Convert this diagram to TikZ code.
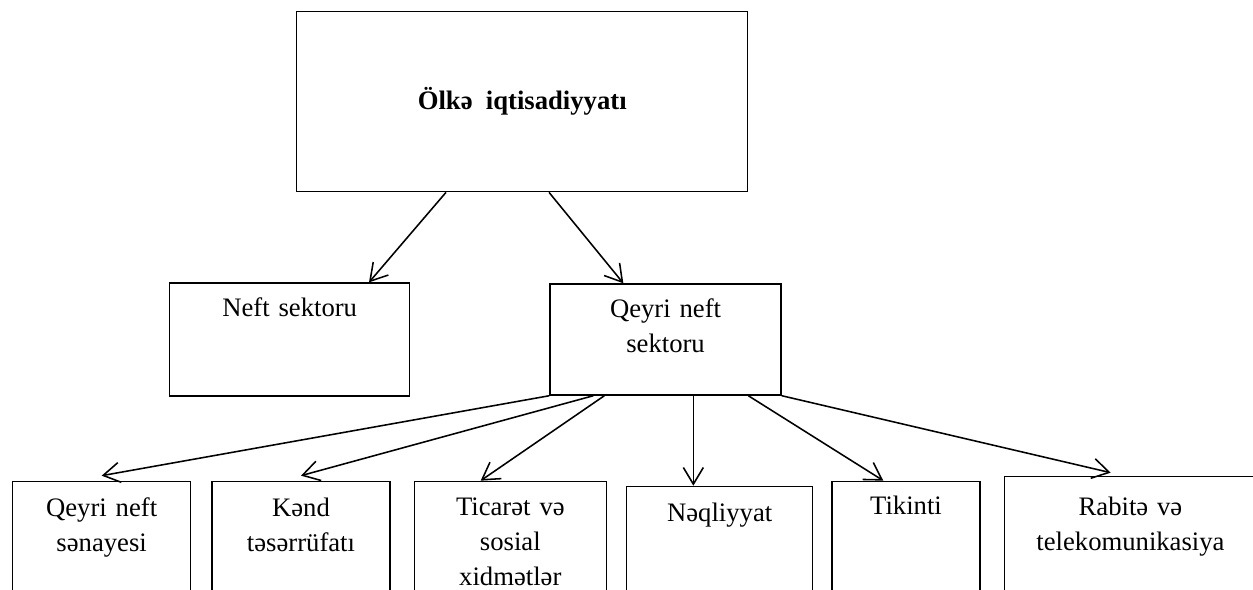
\documentclass[tikz,border=0pt]{standalone}
\usepackage{fontspec}
\setmainfont{Liberation Serif}
\usetikzlibrary{positioning,calc,arrows.meta}

\begin{document}
\begin{tikzpicture}[
    box/.style={rectangle, draw=black, line width=0.6pt, inner sep=0pt,
                minimum width=#1},
    cell/.style={box=#1, minimum height=60pt},
    txt/.style={anchor=base, align=center, text width=#1, inner sep=0pt,
                font=\fontsize{12}{15.75}\selectfont},
    arr/.style={-{Straight Barb[length=7.5pt, width=9pt]}, line width=0.7pt}
]

\path[use as bounding box, clip] (0,0) rectangle (563.85pt,-265.05pt);

% Top box
\node[box=203pt, minimum height=81pt, anchor=north west,
      font=\fontsize{12}{15.75}\selectfont\bfseries] (econ) at (133.2pt,-4.95pt)
      {Ölkə\ \ iqtisadiyyatı};

% Second row: oil / non-oil
\node[box=108pt, minimum height=50.85pt, below=40.5pt of econ.south west,
      anchor=north west, xshift=-57.15pt,
      label={[txt=100pt, yshift=-15.3pt]north:Neft sektoru}] (oil) {};
\node[box=104pt, minimum height=50pt, right=62.55pt of oil,
      label={[txt=96pt, yshift=-15.3pt]north:Qeyri neft\\sektoru}] (nonoil) {};

% Bottom row (left to right)
\node[cell=80.1pt, below=37.8pt of oil.south west, anchor=north west,
      xshift=-70.65pt,
      label={[txt=76pt, yshift=-16.2pt]north:Qeyri neft\\sənayesi}] (ind) {};
\node[cell=80.1pt, right=9pt of ind,
      label={[txt=76pt, yshift=-16.2pt]north:Kənd\\təsərrüfatı}] (agr) {};
\node[cell=86.4pt, right=10.35pt of agr,
      label={[txt=82pt, yshift=-15.75pt]north:Ticarət və\\sosial\\xidmətlər}] (trade) {};
\node[cell=83.7pt, right=8.55pt of trade, yshift=-2.25pt,
      label={[txt=80pt, yshift=-16.2pt]north:Nəqliyyat}] (transp) {};
\node[cell=66.6pt, right=8.1pt of transp, yshift=2.25pt,
      label={[txt=62pt, yshift=-15.3pt]north:Tikinti}] (constr) {};
\node[cell=118pt, right=10.35pt of constr, yshift=2.25pt,
      label={[txt=110pt, xshift=-2.25pt, yshift=-18pt]north:Rabitə və\\telekomunikasiya}] (telecom) {};

% Arrows from the top box
\draw[arr] ($(econ.south west)+(67.5pt,0)$) -- ($(oil.north west)+(90pt,0)$);
\draw[arr] ($(econ.south west)+(113.85pt,0)$) -- ($(nonoil.north west)+(33.3pt,0)$);

% Arrows from the non-oil sector
\draw[arr] (nonoil.south west) -- ($(ind.north)+(0,2.25pt)$);
\draw[arr] ($(nonoil.south west)+(19.8pt,0)$) -- ($(agr.north)+(0,2.25pt)$);
\draw[arr] ($(nonoil.south west)+(24.75pt,0)$) -- ($(trade.north west)+(30.15pt,0)$);
\coordinate (down) at ($(nonoil.south west)+(64.8pt,0)$);
\draw[arr] (down) -- (down |- transp.north);
\draw[arr] ($(nonoil.south west)+(89.55pt,0)$) -- ($(constr.north west)+(23.4pt,0)$);
\draw[arr] (nonoil.south east) -- ($(telecom.north west)+(48.15pt,1.35pt)$);

\end{tikzpicture}
\end{document}
